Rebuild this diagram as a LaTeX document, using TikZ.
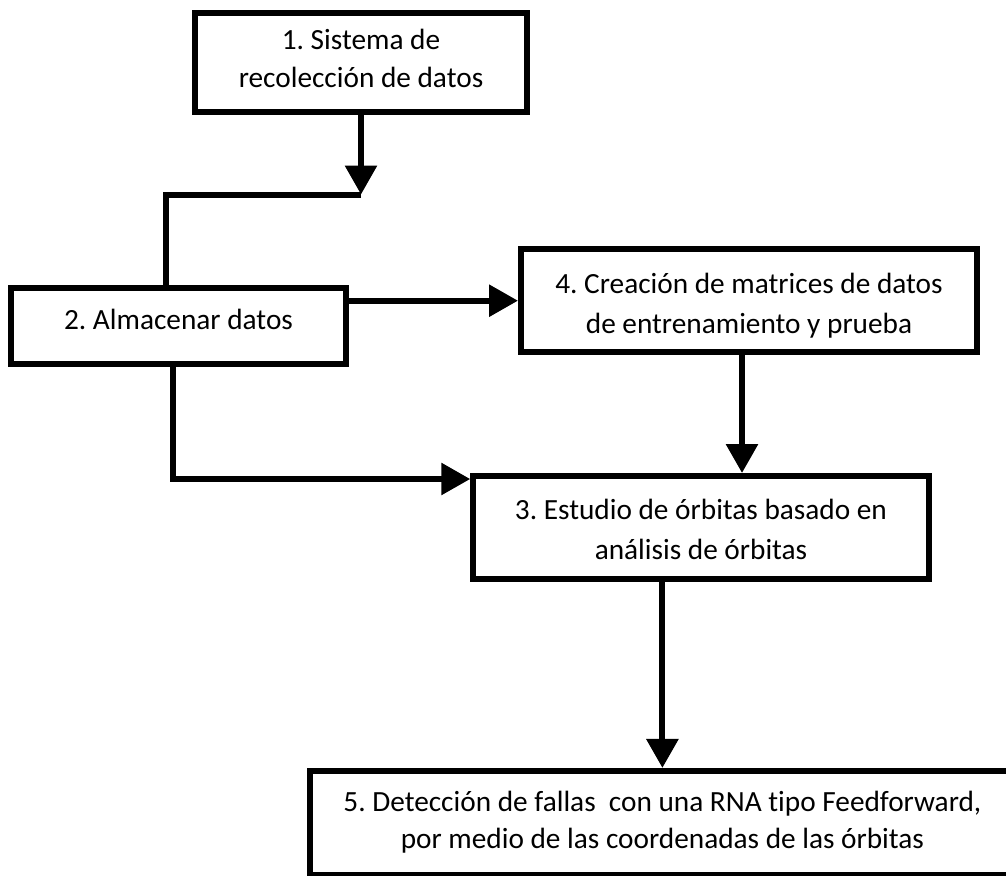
\documentclass[tikz,border=0pt]{standalone}
\usepackage{fontspec}
\setmainfont{Carlito}[Ligatures=NoCommon]
\usetikzlibrary{arrows.meta}
\frenchspacing
\begin{document}
\begin{tikzpicture}[x=1pt,y=-1pt,
  stepbox/.style={draw,rectangle,line width=6pt,align=center,inner sep=0pt,
    font=\fontsize{29.3}{40}\selectfont},
  wire/.style={line width=6pt},
  flow/.style={wire,-{Triangle[length=29pt,width=31pt]}}]
\fill[white] (0,0) rectangle (1006,875);
\useasboundingbox (0,0) rectangle (1006,875);
\clip (0,0) rectangle (1006,875);

% process boxes (text height/depth place the last baseline of each text)
\node[stepbox,minimum width=332pt,minimum height=99pt,
  font=\fontsize{29.3}{38}\selectfont,text height=58pt,text depth=7pt]
  (b1) at (361,62.5) {1. Sistema de\\recolección de datos};
\node[stepbox,minimum width=335pt,minimum height=76pt,
  text height=20pt,text depth=13.4pt]
  (b2) at (178.5,325.7) {2. Almacenar datos};
\node[stepbox,minimum width=456pt,minimum height=102.5pt,
  text height=70pt,text depth=4.2pt]
  (b4) at (749,300.7) {4. Creación de matrices de datos\\de entrenamiento y prueba};
\node[stepbox,minimum width=455.5pt,minimum height=103pt,
  text height=70pt,text depth=5.8pt]
  (b3) at (701,527.5) {3. Estudio de órbitas basado en\\análisis de órbitas};
\node[stepbox,minimum width=705pt,minimum height=104.5pt,
  font=\fontsize{29.3}{37}\selectfont,text height=58pt,text depth=8.4pt]
  (b5) at (662.4,823.2)
  {5. Detección de fallas~ con una RNA tipo Feedforward,\\por medio de las coordenadas de las órbitas};

% junction points of the routed connectors
\coordinate (j1) at (361,194.5);
\coordinate (j2) at (165.5,194.5);
\coordinate (k)  at (173,479);
\coordinate (x43) at (742,0);

% connectors
\draw[flow] (b1.south) -- (j1);
\draw[wire] (j1) -- (j2) -- (j2 |- b2.north);
\draw[flow] (b2.east |- b4.west) -- (b4.west);
\draw[flow] (b4.south -| x43) -- (b3.north -| x43);
\draw[flow] (b2.south -| k) |- (b3.west |- k);
\draw[flow] (b3.south -| b5.north) -- (b5.north);
\end{tikzpicture}
\end{document}
